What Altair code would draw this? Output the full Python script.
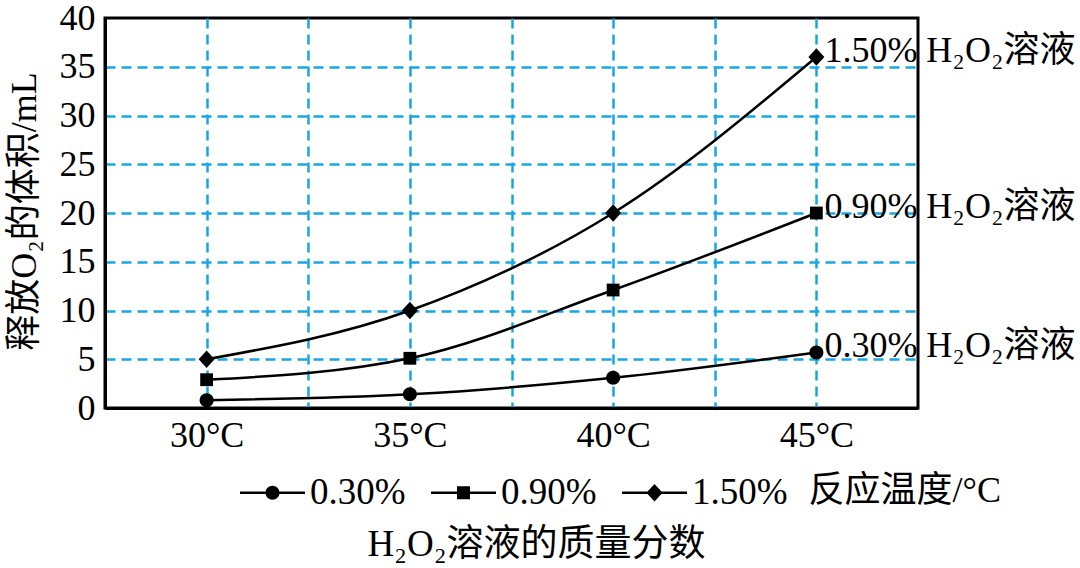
import altair as alt
import pandas as pd

temps = [30, 35, 40, 45]
series = ["0.30%", "0.90%", "1.50%"]
v030 = [0.8, 1.4, 3.1, 5.7]
v090 = [2.9, 5.1, 12.1, 20.0]
v150 = [5.0, 10.0, 20.0, 36.0]
end_labels = ["0.30% H₂O₂溶液", "0.90% H₂O₂溶液", "1.50% H₂O₂溶液"]
x_grid = [30, 32.5, 35, 37.5, 40, 42.5, 45]
y_vals = [0, 5, 10, 15, 20, 25, 30, 35, 40]

rows = []
for s, vals in zip(series, [v030, v090, v150]):
    for t, v in zip(temps, vals):
        rows.append({"temp": t, "vol": v, "series": s})
df = pd.DataFrame(rows)
lab_df = pd.DataFrame({"temp": [temps[-1]] * 3,
                       "vol": [v030[-1], v090[-1], v150[-1]],
                       "label": end_labels})

FONT = "'Liberation Serif', 'Noto Sans CJK SC', serif"
GRID = "#1AA7E1"
FS = 36

pt_paths = [
    "M0.875,0A0.875,0.875 0 1,1 -0.875,0A0.875,0.875 0 1,1 0.875,0Z",
    "M-0.8,-0.8H0.8V0.8H-0.8Z",
    "M-1,0L0,-1.1L1,0L0,1.1Z",
]
# legend glyphs: a thin filled bar (the line) plus the marker, all filled
BAR = "M-1,-0.04H1V0.04H-1Z"
leg_paths = [
    BAR + "M0.215,0A0.215,0.215 0 1,1 -0.215,0A0.215,0.215 0 1,1 0.215,0Z",
    BAR + "M-0.2,-0.2H0.2V0.2H-0.2Z",
    BAR + "M-0.25,0L0,-0.27L0.25,0L0,0.27Z",
]

x = alt.X(
    "temp:Q",
    scale=alt.Scale(domain=[27.5, 47.5], nice=False, zero=False),
    axis=alt.Axis(
        values=x_grid,
        labelExpr="datum.value % 5 == 0 ? datum.value + '°C' : ''",
        ticks=False, grid=True, gridColor=GRID, gridDash=[10, 6], gridWidth=2.5,
        domainColor="black", domainWidth=3,
        labelFont=FONT, labelFontSize=FS, labelColor="black", labelPadding=10,
        title="反应温度/°C", titleFont=FONT, titleFontSize=FS,
        titleFontWeight="normal", titleColor="black",
        titleX=703, titleY=82, titleAlign="left", titleBaseline="middle",
    ),
)
y = alt.Y(
    "vol:Q",
    scale=alt.Scale(domain=[0, 40], nice=False),
    axis=alt.Axis(
        values=y_vals, ticks=False, grid=True, gridColor=GRID, gridDash=[10, 6],
        gridWidth=2.5,
        gridOpacity={"condition": {"test": "datum.value == 0 || datum.value == 40", "value": 0}, "value": 1},
        domainColor="black", domainWidth=3,
        labelFont=FONT, labelFontSize=FS, labelColor="black", labelPadding=10,
        title="释放O₂的体积/mL", titleFont=FONT, titleFontSize=36,
        titleFontWeight="normal", titleColor="black", titlePadding=16,
        titleY=193,
    ),
)

base = alt.Chart(df)

lines = base.mark_line(color="black", strokeWidth=2.5, interpolate="monotone").encode(
    x=x, y=y, detail="series:N"
)
points = base.mark_point(filled=True, size=256, opacity=1, color="black").encode(
    x=x, y=y,
    shape=alt.Shape("series:N", scale=alt.Scale(domain=series, range=pt_paths), legend=None),
)
legend_layer = base.mark_point(filled=True, opacity=0, color="black").encode(
    x=x, y=y,
    shape=alt.Shape(
        "series:N",
        scale=alt.Scale(domain=series, range=leg_paths),
        legend=alt.Legend(
            title=None, orient="none", legendX=135, legendY=442,
            direction="horizontal",
            labelFont=FONT, labelFontSize=37, labelColor="black", labelOffset=5,
            columnPadding=25, symbolSize=4225, symbolOpacity=1,
            symbolFillColor="black", symbolStrokeColor="black", symbolStrokeWidth=0,
        ),
    ),
)
texts = alt.Chart(lab_df).mark_text(
    align="left", baseline="middle", dx=8, dy=-6, font=FONT, fontSize=FS, color="black"
).encode(x=x, y=y, text="label:N")

chart = (
    alt.layer(lines, points, legend_layer, texts)
    .resolve_scale(shape="independent")
    .properties(
        width=813, height=390,
        autosize=alt.AutoSizeParams(type="none"),
        padding={"left": 105, "top": 18, "right": 162, "bottom": 160},
        background="white",
        title=alt.TitleParams(
            "H₂O₂溶液的质量分数", orient="bottom", anchor="middle",
            font=FONT, fontSize=37, fontWeight="normal", color="black",
            dx=25, offset=16,
        ),
    )
    .configure(font=FONT)
    .configure_view(stroke="black", strokeWidth=3)
)

chart.save("out.html", embed_options={"renderer": "svg", "actions": False})
